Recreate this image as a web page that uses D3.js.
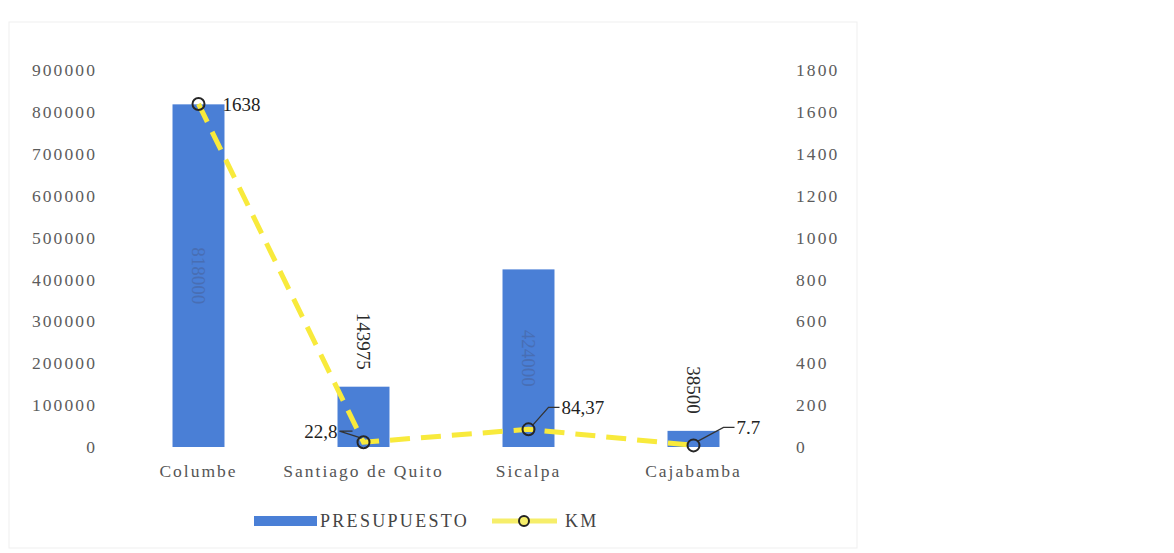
<!DOCTYPE html>
<html lang="es">
<head>
<meta charset="UTF-8">
<title>Presupuesto y KM</title>
<style>
  body{ margin:0; background:#fff; }
  svg text{ font-family:"Liberation Serif","DejaVu Serif",serif; }
</style>
</head>
<body>
<script src="https://d3js.org/d3.v7.min.js"></script>
<script>

var categories = ["Columbe", "Santiago de Quito", "Sicalpa", "Cajabamba"];
var presupuesto = [818000, 143975, 424000, 38500];
var km = [1638, 22.8, 84.37, 7.7];
var kmLabels = ["1638", "22,8", "84,37", "7.7"];
var leftTicks = [0,100000,200000,300000,400000,500000,600000,700000,800000,900000];
var rightTicks = [0,200,400,600,800,1000,1200,1400,1600,1800];

var width = 1174, height = 553;

var svg = d3.select("body").append("svg")
    .attr("width", width)
    .attr("height", height);

// faint frame of the chart area
svg.append("rect")
    .attr("x", 9).attr("y", 22)
    .attr("width", 848).attr("height", 526)
    .style("fill", "none")
    .style("stroke", "#efefef")
    .style("stroke-width", 1);

var x = d3.scaleBand()
    .domain(categories)
    .range([116, 776])
    .paddingInner(0.685)
    .paddingOuter(0.3425);

var yL = d3.scaleLinear().domain([0, 900000]).range([447, 70]);
var yR = d3.scaleLinear().domain([0, 1800]).range([447, 70]);

// left axis
var axL = svg.append("g")
    .attr("transform", "translate(97,0)")
    .call(d3.axisLeft(yL).tickValues(leftTicks).tickSize(0).tickPadding(0).tickFormat(d3.format("d")));
axL.select(".domain").remove();
axL.selectAll("text")
    .style("font-family", "Liberation Serif, serif")
    .style("font-size", "17.5px")
    .style("letter-spacing", "2.1px")
    .style("fill", "#5c5c5c");

// right axis
var axR = svg.append("g")
    .attr("transform", "translate(796,0)")
    .call(d3.axisRight(yR).tickValues(rightTicks).tickSize(0).tickPadding(0).tickFormat(d3.format("d")));
axR.select(".domain").remove();
axR.selectAll("text")
    .style("font-family", "Liberation Serif, serif")
    .style("font-size", "17.5px")
    .style("letter-spacing", "2.1px")
    .style("fill", "#5c5c5c");

// category labels
svg.selectAll(".cat")
    .data(categories).enter()
    .append("text")
    .attr("class", "cat")
    .attr("x", function(d){ return x(d) + x.bandwidth()/2; })
    .attr("y", 477)
    .attr("text-anchor", "middle")
    .style("font-size", "17.5px")
    .style("letter-spacing", "2px")
    .style("fill", "#555")
    .text(function(d){ return d; });

// bars
svg.selectAll(".bar")
    .data(presupuesto).enter()
    .append("rect")
    .attr("class", "bar")
    .attr("x", function(d,i){ return x(categories[i]); })
    .attr("y", function(d){ return yL(d); })
    .attr("width", x.bandwidth())
    .attr("height", function(d){ return yL(0) - yL(d); })
    .style("fill", "#4a7fd6");

// bar labels, rotated; inside for the tall bars, above for the short ones
svg.selectAll(".blbl")
    .data(presupuesto).enter()
    .append("text")
    .attr("class", "blbl")
    .attr("transform", function(d,i){
        var cx = x(categories[i]) + x.bandwidth()/2;
        var cy = d > 300000 ? (yL(d) + yL(0))/2 : yL(d) - 17;
        return "translate(" + cx + "," + cy + ") rotate(90)";
    })
    .attr("dy", "0.35em")
    .attr("text-anchor", function(d){ return d > 300000 ? "middle" : "end"; })
    .style("font-size", "19px")
    .style("fill", function(d){ return d > 300000 ? "#4868a6" : "#2a2a2a"; })
    .style("opacity", function(d){ return d > 300000 ? 0.7 : 1; })
    .text(function(d){ return d; });

// KM line
var pts = km.map(function(v,i){ return [x(categories[i]) + x.bandwidth()/2, yR(v)]; });

svg.append("path")
    .datum(pts)
    .attr("d", d3.line())
    .style("fill", "none")
    .style("stroke", "#f8ea3c")
    .style("stroke-width", 5)
    .style("stroke-dasharray", "20,11");

// leader lines for small values
var leaders = [null, [-24, -11, -11, -11], [20, -22, 31, -22], [30, -18, 41, -18]];
leaders.forEach(function(l, i){
    if(!l) return;
    var p = pts[i];
    svg.append("polyline")
        .attr("points", [
            [p[0] + (l[0] > 0 ? 4 : -2), p[1] - 4],
            [p[0] + l[0], p[1] + l[1]],
            [p[0] + l[2], p[1] + l[3]]
        ].map(function(q){ return q.join(","); }).join(" "))
        .style("fill", "none")
        .style("stroke", "#333")
        .style("stroke-width", 1.3);
});

svg.selectAll(".pt")
    .data(pts).enter()
    .append("circle")
    .attr("class", "pt")
    .attr("cx", function(d){ return d[0]; })
    .attr("cy", function(d){ return d[1]; })
    .attr("r", 6)
    .style("fill", "none")
    .style("stroke", "#262626")
    .style("stroke-width", 2);

// KM labels
var kmOff = [[24, 0, "start"], [-26, -11, "end"], [33, -22, "start"], [43, -18, "start"]];
svg.selectAll(".klbl")
    .data(kmLabels).enter()
    .append("text")
    .attr("class", "klbl")
    .attr("x", function(d,i){ return pts[i][0] + kmOff[i][0]; })
    .attr("y", function(d,i){ return pts[i][1] + kmOff[i][1]; })
    .attr("dy", "0.35em")
    .attr("text-anchor", function(d,i){ return kmOff[i][2]; })
    .style("font-size", "19px")
    .style("fill", "#222")
    .text(function(d){ return d; });

// legend
var lg = svg.append("g").attr("transform", "translate(0,521)");
lg.append("rect")
    .attr("x", 254).attr("y", -5)
    .attr("width", 63).attr("height", 10)
    .style("fill", "#4a7fd6");
lg.append("text")
    .attr("x", 320).attr("dy", "0.35em")
    .style("font-size", "18px")
    .style("letter-spacing", "2.3px")
    .style("fill", "#444")
    .text("PRESUPUESTO");
lg.append("line")
    .attr("x1", 492).attr("x2", 557)
    .style("stroke", "#f6ee6a")
    .style("stroke-width", 5);
lg.append("circle")
    .attr("cx", 524).attr("r", 5)
    .style("fill", "#f6ee6a")
    .style("stroke", "#222")
    .style("stroke-width", 2);
lg.append("text")
    .attr("x", 565).attr("dy", "0.35em")
    .style("font-size", "18px")
    .style("letter-spacing", "2.3px")
    .style("fill", "#444")
    .text("KM");

</script>
</body>
</html>
